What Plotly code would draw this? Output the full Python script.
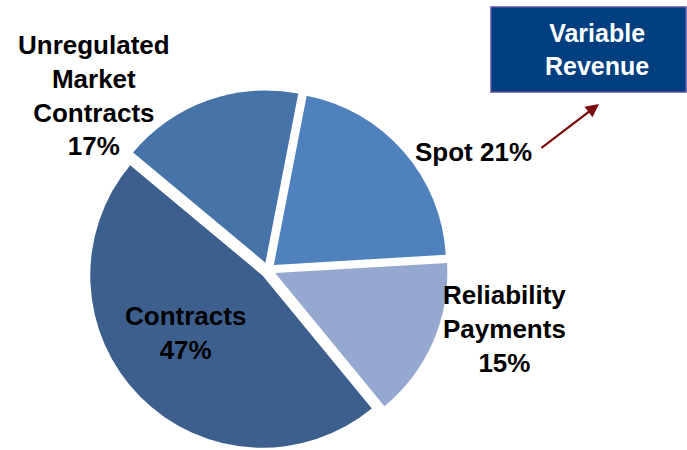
import plotly.graph_objects as go

# ---- data ----
categories = ["Spot", "Reliability Payments", "Contracts", "Unregulated Market Contracts"]
shares = [21, 15, 47, 17]
label_lines = [["Spot"], ["Reliability", "Payments"], ["Contracts"], ["Unregulated", "Market", "Contracts"]]
slice_colors = ["#4F81BD", "#95A9D0", "#3D5F8E", "#4673A8"]
box_text = ["Variable", "Revenue"]

W, H = 687, 450

def px(x):
    return x / W

def py(y):
    return 1 - y / H

fig = go.Figure()

cx, cy = 268, 270
half = 180
fig.add_trace(go.Pie(
    labels=categories,
    values=shares,
    sort=False,
    direction="clockwise",
    rotation=11,
    pull=[0.045] * 4,
    marker=dict(colors=slice_colors, line=dict(width=0)),
    textinfo="none",
    hoverinfo="label+percent",
    showlegend=False,
    domain=dict(x=[px(cx - half), px(cx + half)], y=[0, py(cy - half)]),
))

font = dict(family="Liberation Sans, Arial, sans-serif", size=26, color="black", weight="bold")

def label_text(i):
    lines = label_lines[i]
    if i == 0:
        return lines[0] + " " + f"{shares[i]}%"
    return "<br>".join(lines + [f"{shares[i]}%"])

positions = [(473, 152), (504, 329), (185, 333), (94, 95)]
for i, (x, y) in enumerate(positions):
    fig.add_annotation(x=px(x), y=py(y), xref="paper", yref="paper",
                       text=label_text(i), showarrow=False, font=font,
                       xanchor="center", yanchor="middle", align="center")

# Variable Revenue box
fig.add_shape(type="rect", xref="paper", yref="paper",
              x0=px(491), x1=px(686), y0=py(92), y1=py(7),
              fillcolor="#003F7F", line=dict(color="#5B52A3", width=1.5))
fig.add_annotation(x=px(597), y=py(49), xref="paper", yref="paper",
                   text="<br>".join(box_text), showarrow=False,
                   font=dict(family="Liberation Sans, Arial, sans-serif", size=25, color="white", weight="bold"),
                   xanchor="center", yanchor="middle", align="center")

# arrow
fig.add_annotation(x=px(599), y=py(104), ax=540 - 599, ay=149 - 104,
                   xref="paper", yref="paper", axref="pixel", ayref="pixel",
                   text="", showarrow=True, arrowhead=2, arrowsize=1.2,
                   arrowwidth=2.2, arrowcolor="#7B0A0A")

fig.update_layout(width=W, height=H, margin=dict(l=0, r=0, t=0, b=0),
                  paper_bgcolor="white", plot_bgcolor="white")

fig.write_html("out.html", config={"displayModeBar": False},
               post_script="document.body.style.margin='0';document.body.style.overflow='hidden';")
